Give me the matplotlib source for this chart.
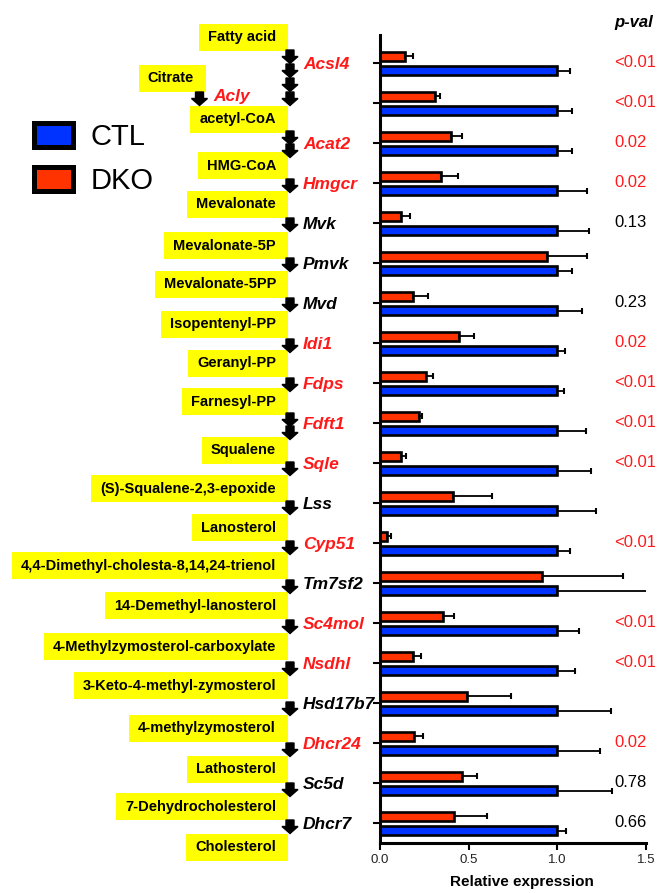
import matplotlib
matplotlib.use("Agg")
import matplotlib.pyplot as plt
import numpy as np
from matplotlib.patches import Rectangle, FancyArrow, Patch

plt.rcParams['font.family'] = ['Liberation Sans', 'DejaVu Sans']

# data
genes = ["Acsl4", "Acly", "Acat2", "Hmgcr", "Mvk", "Pmvk", "Mvd", "Idi1", "Fdps", "Fdft1",
         "Sqle", "Lss", "Cyp51", "Tm7sf2", "Sc4mol", "Nsdhl", "Hsd17b7", "Dhcr24", "Sc5d", "Dhcr7"]
ctl_mean = [1.0, 1.0, 1.0, 1.0, 1.0, 1.0, 1.0, 1.0, 1.0, 1.0,
            1.0, 1.0, 1.0, 1.0, 1.0, 1.0, 1.0, 1.0, 1.0, 1.0]
ctl_sem = [0.07, 0.08, 0.08, 0.17, 0.18, 0.08, 0.14, 0.045, 0.04, 0.16,
           0.19, 0.22, 0.07, 0.52, 0.12, 0.10, 0.30, 0.24, 0.31, 0.05]
dko_mean = [0.14, 0.31, 0.40, 0.345, 0.12, 0.94, 0.185, 0.445, 0.26, 0.22,
            0.12, 0.41, 0.04, 0.915, 0.357, 0.185, 0.49, 0.19, 0.465, 0.42]
dko_sem = [0.045, 0.03, 0.06, 0.095, 0.05, 0.225, 0.085, 0.085, 0.04, 0.015,
           0.025, 0.22, 0.02, 0.455, 0.063, 0.045, 0.25, 0.05, 0.08, 0.185]
pvals = ["<0.01", "<0.01", "0.02", "0.02", "0.13", "", "0.23", "0.02", "<0.01", "<0.01",
         "<0.01", "", "<0.01", "", "<0.01", "<0.01", "", "0.02", "0.78", "0.66"]

metabolites = ["Fatty acid", "acetyl-CoA", "HMG-CoA", "Mevalonate", "Mevalonate-5P",
               "Mevalonate-5PP", "Isopentenyl-PP", "Geranyl-PP", "Farnesyl-PP", "Squalene",
               "(S)-Squalene-2,3-epoxide", "Lanosterol", "4,4-Dimethyl-cholesta-8,14,24-trienol",
               "14-Demethyl-lanosterol", "4-Methylzymosterol-carboxylate",
               "3-Keto-4-methyl-zymosterol", "4-methylzymosterol", "Lathosterol",
               "7-Dehydrocholesterol", "Cholesterol"]
side_metabolite = "Citrate"

BLUE = "#0033ff"
RED = "#ff3300"
TXT_RED = "#ff1a1a"

sig = [p != "" and (p.startswith("<") or float(p) < 0.05) for p in pvals]

# layout of the pathway (pixel coordinates, y down)
met_y = [37.5, 119.5, 165.5, 204.5, 245.7, 284.3, 324.3, 363.5, 401.7, 450.3,
         488.7, 527.7, 565.7, 605.7, 646.7, 685.7, 728, 769.3, 806.7, 847.3]
arrow_tops = [50, 64, 78, 92, 131, 144, 179, 218, 258, 298, 339, 378, 413, 426,
              462, 501, 541, 580, 620, 662, 702, 743, 783, 820]

fig = plt.figure(figsize=(6.62, 8.93), dpi=100)

ov = fig.add_axes([0, 0, 1, 1])
ov.set_xlim(0, 662)
ov.set_ylim(893, 0)
ov.axis("off")

ax = fig.add_axes([380 / 662, 50 / 893, 266 / 662, 808 / 893])
y = np.arange(len(genes))
ekw = dict(ecolor="black", elinewidth=1.3, capsize=2.5, capthick=1.5)
ax.barh(y - 0.17, dko_mean, height=0.22, color=RED, edgecolor="black", linewidth=1.9,
        xerr=[np.zeros(len(genes)), dko_sem], error_kw=ekw, zorder=2)
ax.barh(y + 0.19, ctl_mean, height=0.22, color=BLUE, edgecolor="black", linewidth=1.9,
        xerr=[np.zeros(len(genes)), ctl_sem], error_kw=ekw, zorder=2)
ax.set_xlim(0, 1.5)
ax.set_ylim(19.5, -0.7)
ax.set_xticks([0, 0.5, 1.0, 1.5])
ax.set_xticklabels(["0.0", "0.5", "1.0", "1.5"], fontsize=9.5, color="#222222")
ax.set_yticks(y)
ax.set_yticklabels([g if g != "Acly" else "" for g in genes], fontsize=12.5,
                   fontweight="bold", fontstyle="italic")
for lab, s in zip(ax.get_yticklabels(), sig):
    lab.set_horizontalalignment("left")
    lab.set_color(TXT_RED if s else "black")
ax.tick_params(axis="y", length=5, width=1.5, pad=50.4)
ax.tick_params(axis="x", length=5, width=1.5, pad=3.2)
for sp in ["top", "right"]:
    ax.spines[sp].set_visible(False)
for sp in ["left", "bottom"]:
    ax.spines[sp].set_linewidth(2.2)
ax.set_xlabel("Relative expression", fontsize=11, fontweight="bold", va="top")
ax.xaxis.set_label_coords(0.534, -0.0396)

for i, p in enumerate(pvals):
    if p:
        ax.text(1.32, i, p, fontsize=12, ha="left", va="center",
                color=TXT_RED if sig[i] else "black", clip_on=False)
ov.text(614, 23, "p-val", fontsize=12, fontweight="bold", fontstyle="italic",
        ha="left", va="center")

# Acly sits next to the citrate branch
ov.text(213, 96, "Acly", fontsize=12.5, fontweight="bold", fontstyle="italic",
        color=TXT_RED if sig[1] else "black", ha="left", va="center")

# metabolite boxes
texts = []
for name, yc in zip(metabolites, met_y):
    texts.append((ov.text(276, yc, name, ha="right", va="center", fontsize=10.5,
                          fontweight="bold", zorder=3), yc, 288))
texts.append((ov.text(194, 78.5, side_metabolite, ha="right", va="center", fontsize=10.5,
                      fontweight="bold", zorder=3), 78.5, 206))

fig.canvas.draw()
inv = ov.transData.inverted()
for t, yc, right in texts:
    bb = t.get_window_extent()
    x0 = inv.transform((bb.x0, bb.y0))[0]
    ov.add_patch(Rectangle((x0 - 9, yc - 13.5), right - x0 + 9, 27,
                           facecolor="#ffff00", edgecolor="none", zorder=1))

# arrows
def block_arrow(x, top):
    ov.add_patch(FancyArrow(x, top, 0, 13.5, width=8, head_width=16, head_length=7,
                            length_includes_head=True, color="black", zorder=4))

for top in arrow_tops:
    block_arrow(290, top)
block_arrow(199.5, 92)

fig.legend(handles=[Patch(facecolor=BLUE, edgecolor="black", linewidth=3.6, label="CTL"),
                    Patch(facecolor=RED, edgecolor="black", linewidth=3.6, label="DKO")],
           loc="upper left", bbox_to_anchor=(33.5 / 662, 1 - 123 / 893), frameon=False,
           fontsize=21, handlelength=1.37, handleheight=0.89, handletextpad=0.6,
           labelspacing=0.55, borderpad=0, borderaxespad=0)

fig.savefig("out.png", dpi=100)
